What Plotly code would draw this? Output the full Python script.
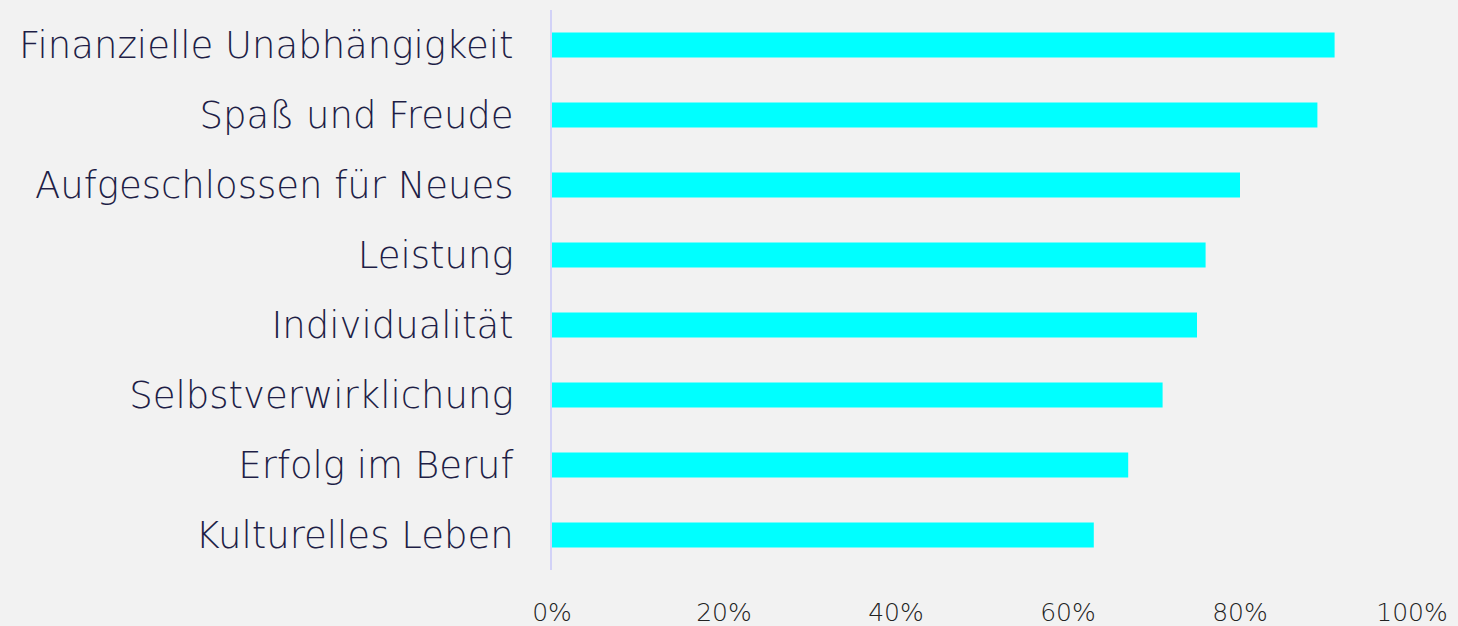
import plotly.graph_objects as go

categories = [
    "Finanzielle Unabhängigkeit",
    "Spaß und Freude",
    "Aufgeschlossen für Neues",
    "Leistung",
    "Individualität",
    "Selbstverwirklichung",
    "Erfolg im Beruf",
    "Kulturelles Leben",
]
values = [91, 89, 80, 76, 75, 71, 67, 63]
tick_vals = [0, 20, 40, 60, 80, 100]
tick_text = ["0%", "20%", "40%", "60%", "80%", "100%"]

fig = go.Figure(
    go.Bar(
        x=values,
        y=categories,
        orientation="h",
        marker=dict(color="#00ffff", line=dict(width=0)),
        width=0.36,
        hoverinfo="x+y",
    )
)

fig.update_layout(
    width=1458,
    height=626,
    margin=dict(l=552, r=46, t=10, b=56),
    paper_bgcolor="#f2f2f2",
    plot_bgcolor="#f2f2f2",
    showlegend=False,
    font=dict(family="DejaVu Sans", color="#1e1e46"),
)

fig.update_xaxes(
    range=[0, 100],
    tickvals=tick_vals,
    ticktext=tick_text,
    showgrid=False,
    zeroline=False,
    showline=False,
    automargin=False,
    ticklabelstandoff=25,
    tickfont=dict(family="DejaVu Sans", size=25, color="#222222", weight=200),
    fixedrange=True,
)

fig.update_yaxes(
    categoryorder="array",
    categoryarray=categories[::-1],
    range=[-0.5, 7.5],
    showgrid=False,
    zeroline=False,
    showline=True,
    linecolor="#d2d2f7",
    linewidth=2,
    ticks="",
    automargin=False,
    ticklabelstandoff=29,
    tickfont=dict(family="DejaVu Sans", size=37, color="#1e1e46", weight=200),
    fixedrange=True,
)

fig.write_html("out.html")
